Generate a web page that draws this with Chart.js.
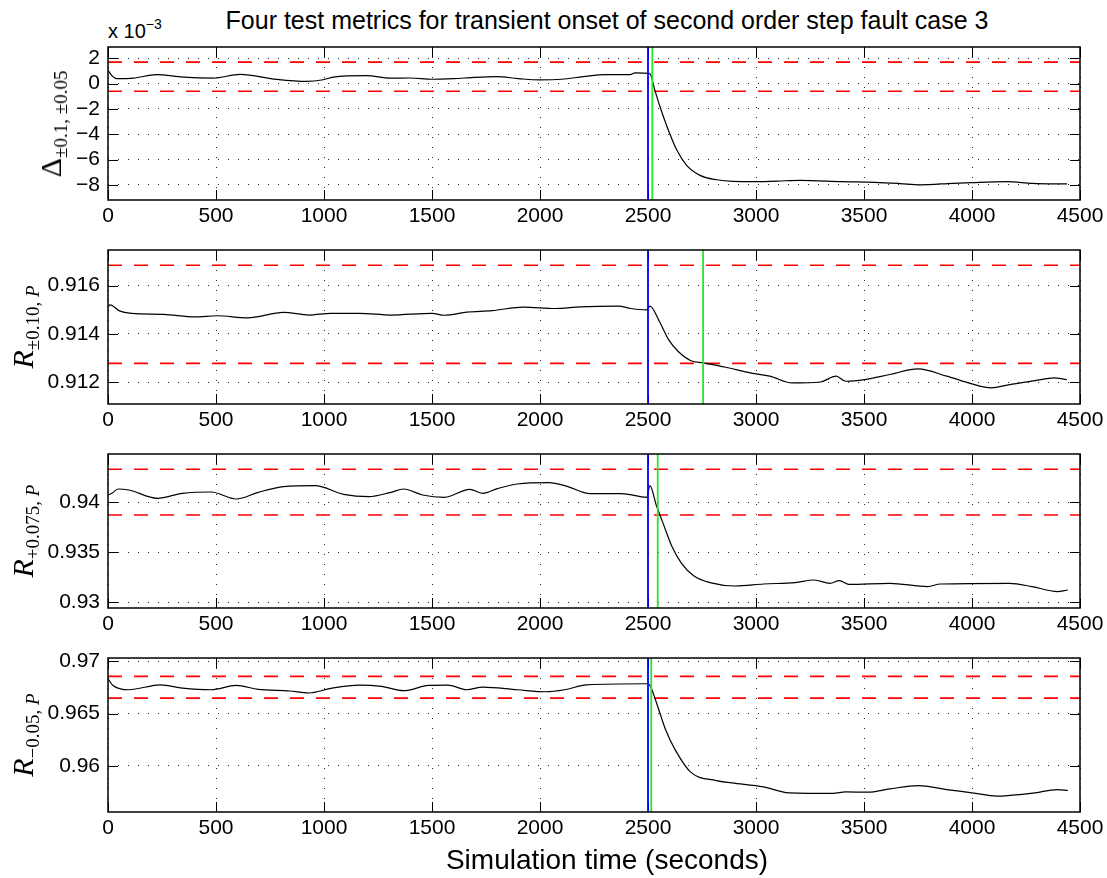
<!DOCTYPE html>
<html>
<head>
<meta charset="utf-8">
<script src="https://cdn.jsdelivr.net/npm/chart.js@4.4.1/dist/chart.umd.min.js"></script>
<style>
  body { margin: 0; background: #fff; }
  #wrap { position: relative; width: 1107px; height: 878px; font-family: 'Liberation Sans', Arial, sans-serif; color: #000; }
  canvas { position: absolute; left: 0; }
  .txt { position: absolute; white-space: nowrap; line-height: 1; }
  #title { left: 607px; top: 20px; font-size: 25px; transform: translate(-50%, -50%); }
  #xlabel { left: 607px; top: 860px; font-size: 28px; transform: translate(-50%, -50%); }
  #expo { left: 108px; top: 17px; font-size: 20px; }
  #expo sup { font-size: 14px; vertical-align: 9px; }
  .yl { position: absolute; white-space: nowrap; line-height: 1; font-family: 'Liberation Serif', 'DejaVu Serif', serif; font-size: 30px; transform: translate(-50%, -50%) rotate(-90deg); }
  .yl i { font-style: italic; }
  .yl sub { font-size: 19px; vertical-align: -6px; }
</style>
</head>
<body>
<div id="wrap">
  <div id="title" class="txt">Four test metrics for transient onset of second order step fault case 3</div>
  <div id="expo" class="txt">x 10<sup>−3</sup></div>
  <canvas id="c1" width="1107"></canvas>
  <canvas id="c2" width="1107"></canvas>
  <canvas id="c3" width="1107"></canvas>
  <canvas id="c4" width="1107"></canvas>
  <div class="yl" id="yl1">Δ<sub>±0.1, ±0.05</sub></div>
  <div class="yl" id="yl2"><i>R</i><sub>±0.10, <i>P</i></sub></div>
  <div class="yl" id="yl3"><i>R</i><sub>+0.075, <i>P</i></sub></div>
  <div class="yl" id="yl4"><i>R</i><sub>−0.05, <i>P</i></sub></div>
  <div id="xlabel" class="txt">Simulation time (seconds)</div>
</div>
<script>
const xTicks = [0, 500, 1000, 1500, 2000, 2500, 3000, 3500, 4000, 4500];
const onset = 2500;

// panel 1: delta metric (x 1e-3)
const t1 = [0, 20, 40, 117, 225, 348, 488, 611, 781, 920, 996, 1043, 1198, 1305, 1400, 1500, 1600, 1700, 1800, 1900, 2000, 2100, 2200, 2300, 2417, 2440, 2500, 2509, 2532, 2556, 2586, 2634, 2679, 2741, 2818, 2894, 2987, 3100, 3204, 3400, 3550, 3667, 3759, 3910, 4000, 4160, 4280, 4440];
const v1 = [1.05, 0.6, 0.4, 0.44, 0.71, 0.52, 0.44, 0.73, 0.34, 0.18, 0.31, 0.52, 0.63, 0.44, 0.45, 0.35, 0.4, 0.5, 0.55, 0.4, 0.3, 0.35, 0.55, 0.72, 0.72, 0.85, 0.82, 0.79, -0.53, -1.85, -3.3, -5.27, -6.46, -7.25, -7.6, -7.73, -7.75, -7.7, -7.65, -7.75, -7.8, -7.9, -8.0, -7.88, -7.82, -7.75, -7.88, -7.93];
const lim1 = [1.7, -0.6];
const green1 = 2520;
const yTicks1 = [-8, -6, -4, -2, 0, 2];

// panel 2: R +-0.10
const t2 = [0, 10, 53, 111, 257, 404, 506, 646, 813, 930, 1032, 1164, 1310, 1500, 1558, 1661, 1778, 1924, 2070, 2187, 2363, 2421, 2494, 2509, 2553, 2596, 2640, 2699, 2757, 2860, 2977, 3064, 3167, 3298, 3371, 3415, 3503, 3620, 3751, 3883, 4000, 4088, 4175, 4292, 4380, 4439];
const v2 = [0.91512, 0.9152, 0.91495, 0.91485, 0.91481, 0.9147, 0.91475, 0.91466, 0.91489, 0.91478, 0.91485, 0.91485, 0.91478, 0.91485, 0.91477, 0.9149, 0.91496, 0.91511, 0.91505, 0.91512, 0.91515, 0.91505, 0.91499, 0.91515, 0.91451, 0.91375, 0.91327, 0.91289, 0.9128, 0.91262, 0.91238, 0.91225, 0.91197, 0.91201, 0.91225, 0.91204, 0.91211, 0.91232, 0.91255, 0.91225, 0.91193, 0.91177, 0.9119, 0.91207, 0.91218, 0.91211];
const lim2 = [0.91684, 0.91278];
const green2 = 2755;
const yTicks2 = [0.912, 0.914, 0.916];

// panel 3: R +0.075
const t3 = [0, 18, 47, 96, 228, 345, 477, 594, 696, 813, 959, 1091, 1208, 1310, 1368, 1456, 1558, 1675, 1734, 1807, 1895, 2041, 2129, 2231, 2377, 2494, 2509, 2538, 2567, 2611, 2655, 2713, 2787, 2904, 3035, 3181, 3269, 3342, 3386, 3430, 3620, 3795, 3854, 4175, 4278, 4395, 4444];
const v3 = [0.94073, 0.9409, 0.94133, 0.94123, 0.9404, 0.9409, 0.94103, 0.94033, 0.941, 0.94157, 0.94167, 0.9408, 0.94057, 0.941, 0.94133, 0.94073, 0.9405, 0.9413, 0.9409, 0.9414, 0.94183, 0.94197, 0.94157, 0.94087, 0.94087, 0.9405, 0.94167, 0.93973, 0.93807, 0.93557, 0.9339, 0.93263, 0.93197, 0.93163, 0.93183, 0.93197, 0.93223, 0.9319, 0.93217, 0.9318, 0.9319, 0.93157, 0.93183, 0.9319, 0.93157, 0.93107, 0.93123];
const lim3 = [0.9433, 0.93873];
const green3 = 2545;
const yTicks3 = [0.93, 0.935, 0.94];

// panel 4: R -0.05
const t4 = [0, 23, 96, 243, 345, 477, 594, 696, 842, 930, 1032, 1164, 1266, 1368, 1485, 1573, 1661, 1734, 1895, 2026, 2114, 2216, 2494, 2509, 2538, 2582, 2626, 2699, 2816, 2889, 3035, 3152, 3357, 3415, 3518, 3620, 3751, 3883, 4000, 4117, 4175, 4292, 4395, 4444];
const v4 = [0.96831, 0.96768, 0.96727, 0.96774, 0.96743, 0.96727, 0.96768, 0.9673, 0.96715, 0.96696, 0.9674, 0.96771, 0.96759, 0.96718, 0.96768, 0.96771, 0.96727, 0.96752, 0.96727, 0.96708, 0.96727, 0.96774, 0.96784, 0.96768, 0.9661, 0.96342, 0.96153, 0.95938, 0.9586, 0.95838, 0.958, 0.95743, 0.95737, 0.95752, 0.95749, 0.95781, 0.95812, 0.95774, 0.95743, 0.95711, 0.95718, 0.95743, 0.95774, 0.95765];
const lim4 = [0.96855, 0.96647];
const green4 = 2515;
const yTicks4 = [0.96, 0.965, 0.97];

// axes rectangles [top, bottom] in page pixels, plus y range
const panels = [
  { id: 'c1', lab: 'yl1', labX: 53, area: [47, 200], ymin: -9.2, ymax: 2.9, t: t1, v: v1, lim: lim1, green: green1, ticks: yTicks1, fmt: v => v < 0 ? '\u2212' + (-v) : String(v) },
  { id: 'c2', lab: 'yl2', labX: 25, area: [250, 404], ymin: 0.9111, ymax: 0.91747, t: t2, v: v2, lim: lim2, green: green2, ticks: yTicks2, fmt: v => String(v) },
  { id: 'c3', lab: 'yl3', labX: 25, area: [454, 608], ymin: 0.92943, ymax: 0.94483, t: t3, v: v3, lim: lim3, green: green3, ticks: yTicks3, fmt: v => String(v) },
  { id: 'c4', lab: 'yl4', labX: 25, area: [658, 812], ymin: 0.9556, ymax: 0.9703, t: t4, v: v4, lim: lim4, green: green4, ticks: yTicks4, fmt: v => String(v) }
];

const PAD_TOP = 12, X_AXIS_H = 40, Y_AXIS_W = 108, PAD_RIGHT = 27, TICK_LEN = 10;
const tickFont = { family: "'Liberation Sans', Arial, sans-serif", size: 21 };

// inward tick marks under the data, box around the axes on top
const framePlugin = {
  id: 'frame',
  beforeDatasetsDraw(chart) {
    const { ctx, chartArea: a, scales } = chart;
    ctx.save();
    ctx.strokeStyle = '#000';
    ctx.lineWidth = 1;
    ctx.beginPath();
    scales.x.ticks.forEach(tk => {
      const px = Math.round(scales.x.getPixelForValue(tk.value)) + 0.5;
      ctx.moveTo(px, a.bottom); ctx.lineTo(px, a.bottom - TICK_LEN);
      ctx.moveTo(px, a.top); ctx.lineTo(px, a.top + TICK_LEN);
    });
    scales.y.ticks.forEach(tk => {
      const py = Math.round(scales.y.getPixelForValue(tk.value)) + 0.5;
      ctx.moveTo(a.left, py); ctx.lineTo(a.left + TICK_LEN, py);
      ctx.moveTo(a.right, py); ctx.lineTo(a.right - TICK_LEN, py);
    });
    ctx.stroke();
    ctx.restore();
  },
  afterDatasetsDraw(chart) {
    const { ctx, chartArea: a } = chart;
    ctx.save();
    ctx.strokeStyle = '#000';
    ctx.lineWidth = 1.5;
    ctx.strokeRect(a.left, a.top, a.right - a.left, a.bottom - a.top);
    ctx.restore();
  }
};

function vline(x, p, color) {
  return {
    data: [{ x: x, y: p.ymin }, { x: x, y: p.ymax }],
    borderColor: color, borderWidth: 1.8, pointRadius: 0, tension: 0
  };
}

function hline(y, color) {
  return {
    data: [{ x: 0, y: y }, { x: 4500, y: y }],
    borderColor: color, borderWidth: 1.6, borderDash: [14, 12], pointRadius: 0, tension: 0
  };
}

// keep the tick labels from pushing the plot area around
function noPad(s) {
  s.paddingTop = 0; s.paddingBottom = 0; s.paddingLeft = 0; s.paddingRight = 0;
}

panels.forEach(p => {
  const [top, bottom] = p.area;
  const canvas = document.getElementById(p.id);
  canvas.height = bottom - top + PAD_TOP + X_AXIS_H;
  canvas.style.top = (top - PAD_TOP) + 'px';

  const lab = document.getElementById(p.lab);
  lab.style.left = p.labX + 'px';
  lab.style.top = ((top + bottom) / 2) + 'px';

  new Chart(canvas.getContext('2d'), {
    type: 'line',
    data: {
      datasets: [
        vline(p.green, p, 'rgb(40,230,40)'),
        vline(onset, p, 'rgb(0,0,255)'),
        {
          data: p.t.map((x, i) => ({ x: x, y: p.v[i] })),
          borderColor: '#000', borderWidth: 1.2, pointRadius: 0,
          cubicInterpolationMode: 'monotone'
        },
        hline(p.lim[0], 'rgb(255,0,0)'),
        hline(p.lim[1], 'rgb(255,0,0)')
      ]
    },
    options: {
      responsive: false,
      animation: false,
      devicePixelRatio: 1,
      events: [],
      layout: { padding: { top: PAD_TOP, right: PAD_RIGHT, left: 0, bottom: 0 } },
      plugins: { legend: { display: false }, tooltip: { enabled: false } },
      scales: {
        x: {
          type: 'linear', min: 0, max: 4500,
          afterBuildTicks: s => { s.ticks = xTicks.map(v => ({ value: v })); },
          afterFit: s => { s.height = X_AXIS_H; noPad(s); },
          ticks: { font: tickFont, color: '#000', padding: 4, maxRotation: 0, autoSkip: false, callback: v => String(v) },
          grid: { color: 'rgba(0,0,0,0.85)', lineWidth: 1, drawTicks: false },
          border: { display: false, dash: [1, 9] }
        },
        y: {
          type: 'linear', min: p.ymin, max: p.ymax,
          afterBuildTicks: s => { s.ticks = p.ticks.map(v => ({ value: v })); },
          afterFit: s => { s.width = Y_AXIS_W; noPad(s); },
          ticks: { font: tickFont, color: '#000', padding: 8, callback: v => p.fmt(v) },
          grid: { color: 'rgba(0,0,0,0.85)', lineWidth: 1, drawTicks: false },
          border: { display: false, dash: [1, 9] }
        }
      }
    },
    plugins: [framePlugin]
  });
});
</script>
</body>
</html>
